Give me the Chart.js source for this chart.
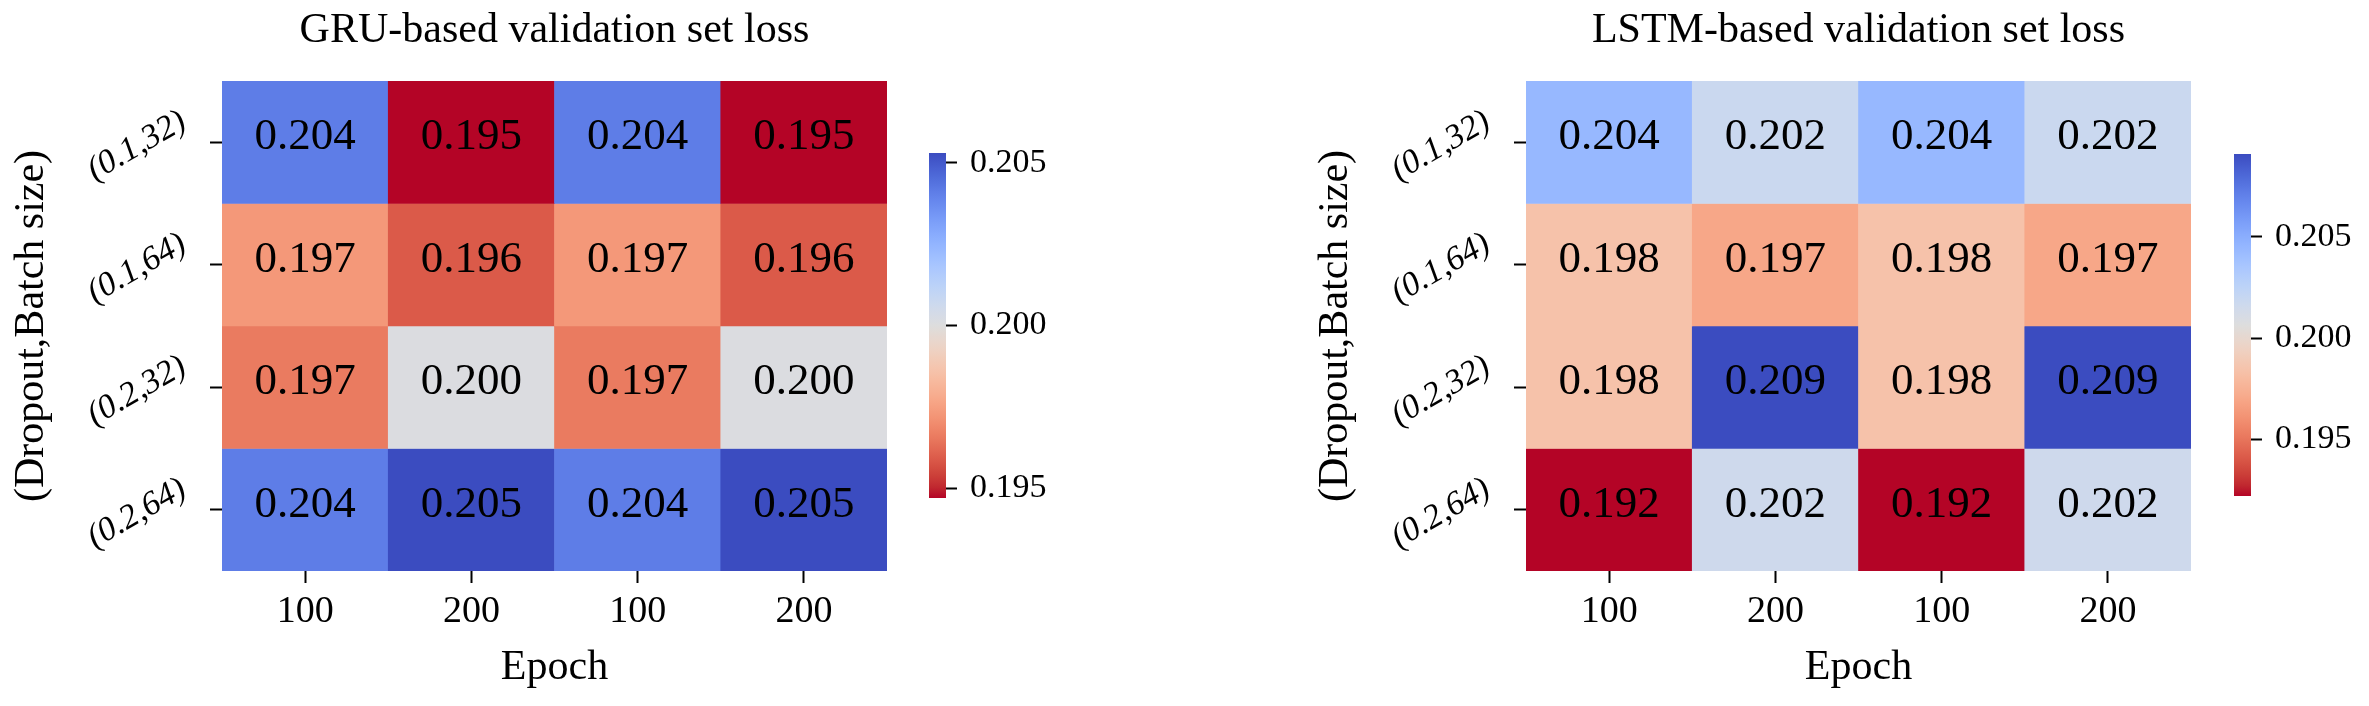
<!DOCTYPE html>
<html>
<head>
<meta charset="utf-8">
<script src="https://cdn.jsdelivr.net/npm/chart.js@4.4.0/dist/chart.umd.min.js"></script>
<style>
html,body{margin:0;padding:0;background:#fff;}
#wrap{position:relative;width:2369px;height:706px;overflow:hidden;background:#fff;}
canvas{position:absolute;top:0;}
</style>
</head>
<body>
<div id="wrap">
<canvas id="gru" width="900" height="706" style="left:0px"></canvas>
<canvas id="gruCb" width="186" height="706" style="left:880px"></canvas>
<canvas id="lstm" width="900" height="706" style="left:1304px"></canvas>
<canvas id="lstmCb" width="186" height="706" style="left:2185px"></canvas>
</div>
<script>
// ---- data ----
const epochLabels = ['100', '200', '100', '200'];
const rowLabels = ['(0.1,32)', '(0.1,64)', '(0.2,32)', '(0.2,64)'];
const gruLoss = [
  [0.2041, 0.1947, 0.2041, 0.1947],
  [0.1973, 0.1959, 0.1973, 0.1959],
  [0.1966, 0.2001, 0.1966, 0.2001],
  [0.2041, 0.2053, 0.2041, 0.2053]
];
const lstmLoss = [
  [0.2044, 0.2018, 0.2044, 0.2018],
  [0.1984, 0.1970, 0.1984, 0.1970],
  [0.1984, 0.2091, 0.1984, 0.2091],
  [0.1922, 0.2016, 0.1922, 0.2016]
];
const colorbarTicks = [0.195, 0.200, 0.205];
const gruTitle = 'GRU-based validation set loss';
const lstmTitle = 'LSTM-based validation set loss';
const xTitle = 'Epoch';
const yTitle = '(Dropout,Batch size)';

// ---- colormap (matplotlib coolwarm, reversed use) ----
const COOLWARM = [
  [59,76,192],[68,90,204],[77,104,215],[87,117,225],[98,130,234],[108,142,241],
  [119,154,247],[130,165,251],[141,176,254],[152,185,255],[163,194,255],[174,201,253],
  [184,208,249],[194,213,244],[204,217,238],[213,219,230],[221,221,221],[229,216,209],
  [236,211,198],[241,204,185],[245,196,173],[247,187,160],[247,177,148],[247,166,135],
  [244,154,123],[241,141,111],[236,127,99],[229,112,88],[222,96,77],[213,80,66],
  [203,62,56],[192,40,47],[180,4,38]
];
function coolwarm(t) {
  t = Math.max(0, Math.min(1, t));
  const p = t * (COOLWARM.length - 1);
  const i = Math.min(Math.floor(p), COOLWARM.length - 2);
  const f = p - i;
  const a = COOLWARM[i], b = COOLWARM[i + 1];
  const c = a.map((v, k) => Math.round(v + (b[k] - v) * f));
  return `rgb(${c[0]},${c[1]},${c[2]})`;
}
function valueColor(v, vmin, vmax) {
  return coolwarm(1 - (v - vmin) / (vmax - vmin));
}

const FONT = "'Liberation Serif', 'Times New Roman', serif";
Chart.defaults.font.family = FONT;
Chart.defaults.color = '#000';

const cellText = {
  id: 'cellText',
  afterDatasetsDraw(chart) {
    const ctx = chart.ctx;
    ctx.save();
    ctx.font = `45px ${FONT}`;
    ctx.fillStyle = '#000';
    ctx.textAlign = 'center';
    ctx.textBaseline = 'middle';
    chart.data.datasets.forEach((ds, r) => {
      const meta = chart.getDatasetMeta(r);
      meta.data.forEach((bar, c) => {
        const p = bar.getProps(['x', 'y', 'base'], true);
        ctx.fillText(ds.values[c].toFixed(3), p.x, (p.y + p.base) / 2 - 5);
      });
    });
    ctx.restore();
  }
};

const rowTickLabels = {
  id: 'rowTickLabels',
  afterDraw(chart) {
    const ys = chart.scales.y, ctx = chart.ctx;
    const fs = 34, ang = 30 * Math.PI / 180;
    ctx.save();
    ctx.font = `italic ${fs}px ${FONT}`;
    ctx.fillStyle = '#000';
    ctx.textAlign = 'center';
    ctx.textBaseline = 'middle';
    rowLabels.forEach((lab, i) => {
      const py = ys.getPixelForValue(i + 0.5);
      const w = ctx.measureText(lab).width, h = fs * 0.87;
      const bw = w * Math.cos(ang) + h * Math.sin(ang);
      const cx = ys.right - 12 - 19 - bw / 2;
      ctx.save();
      ctx.translate(cx, py + 4);
      ctx.rotate(-ang);
      ctx.fillText(lab, 0, 0);
      ctx.restore();
    });
    ctx.restore();
  }
};

const tickGrid = { drawOnChartArea: false, drawTicks: true, tickLength: 12, tickWidth: 2, tickColor: '#000' };

function makeHeatmap(id, title, values) {
  const flat = values.flat();
  const vmin = Math.min(...flat), vmax = Math.max(...flat);
  const datasets = values.map((row, r) => ({
    data: row.map(() => [r, r + 1]),
    values: row,
    backgroundColor: row.map(v => valueColor(v, vmin, vmax)),
    borderWidth: 0,
    barPercentage: 1,
    categoryPercentage: 1,
    grouped: false
  }));
  new Chart(document.getElementById(id), {
    type: 'bar',
    data: { labels: epochLabels, datasets },
    options: {
      responsive: false,
      animation: false,
      layout: { padding: { left: 0, right: 13, top: 0, bottom: 0 } },
      plugins: {
        legend: { display: false },
        tooltip: { enabled: false },
        title: {
          display: true, text: title, fullSize: false, color: '#000',
          font: { size: 42, weight: 'normal' },
          padding: { top: 6, bottom: 24.6 }
        }
      },
      scales: {
        x: {
          type: 'category',
          offset: true,
          grid: Object.assign({ offset: false }, tickGrid),
          border: { display: false },
          ticks: { color: '#000', font: { size: 38 }, padding: 6, maxRotation: 0, autoSkip: false },
          title: { display: true, text: xTitle, color: '#000', font: { size: 42 }, padding: { top: 0, bottom: 13 } },
          afterFit: s => { s.height = 135; }
        },
        y: {
          type: 'linear',
          min: 0, max: rowLabels.length,
          reverse: true,
          afterBuildTicks: s => { s.ticks = rowLabels.map((_, i) => ({ value: i + 0.5 })); },
          grid: Object.assign({}, tickGrid),
          border: { display: false },
          ticks: { display: false },
          title: { display: true, text: yTitle, color: '#000', font: { size: 42 }, padding: { top: 7, bottom: 0 } },
          afterFit: s => { s.width = 222; }
        }
      }
    },
    plugins: [cellText, rowTickLabels]
  });
}

function makeColorbar(id, values, padTop, padBottom) {
  const flat = values.flat();
  const vmin = Math.min(...flat), vmax = Math.max(...flat);
  new Chart(document.getElementById(id), {
    type: 'bar',
    data: {
      labels: [''],
      datasets: [{
        data: [[vmin, vmax]],
        backgroundColor: (ctx) => {
          const area = ctx.chart.chartArea;
          if (!area) return 'rgba(0,0,0,0)';
          const g = ctx.chart.ctx.createLinearGradient(0, area.bottom, 0, area.top);
          const n = 64;
          for (let i = 0; i <= n; i++) {
            const pos = i / n;
            g.addColorStop(pos, coolwarm(1 - pos));
          }
          return g;
        },
        borderWidth: 0,
        barPercentage: 1,
        categoryPercentage: 1
      }]
    },
    options: {
      responsive: false,
      animation: false,
      layout: { padding: { left: 49, right: 0, top: padTop, bottom: padBottom } },
      plugins: { legend: { display: false }, tooltip: { enabled: false }, title: { display: false } },
      scales: {
        x: { display: false },
        y: {
          position: 'right',
          min: vmin, max: vmax,
          afterBuildTicks: s => {
            s.ticks = colorbarTicks.filter(t => t >= vmin && t <= vmax).map(v => ({ value: v }));
          },
          ticks: { color: '#000', font: { size: 34 }, padding: 13, callback: v => Number(v).toFixed(3) },
          grid: { drawOnChartArea: false, drawTicks: true, tickLength: 11, tickWidth: 2, tickColor: '#000' },
          border: { display: false },
          afterFit: s => { s.width = 120; }
        }
      }
    }
  });
}

makeHeatmap('gru', gruTitle, gruLoss);
makeColorbar('gruCb', gruLoss, 153, 208);
makeHeatmap('lstm', lstmTitle, lstmLoss);
makeColorbar('lstmCb', lstmLoss, 154, 210);
</script>
</body>
</html>
